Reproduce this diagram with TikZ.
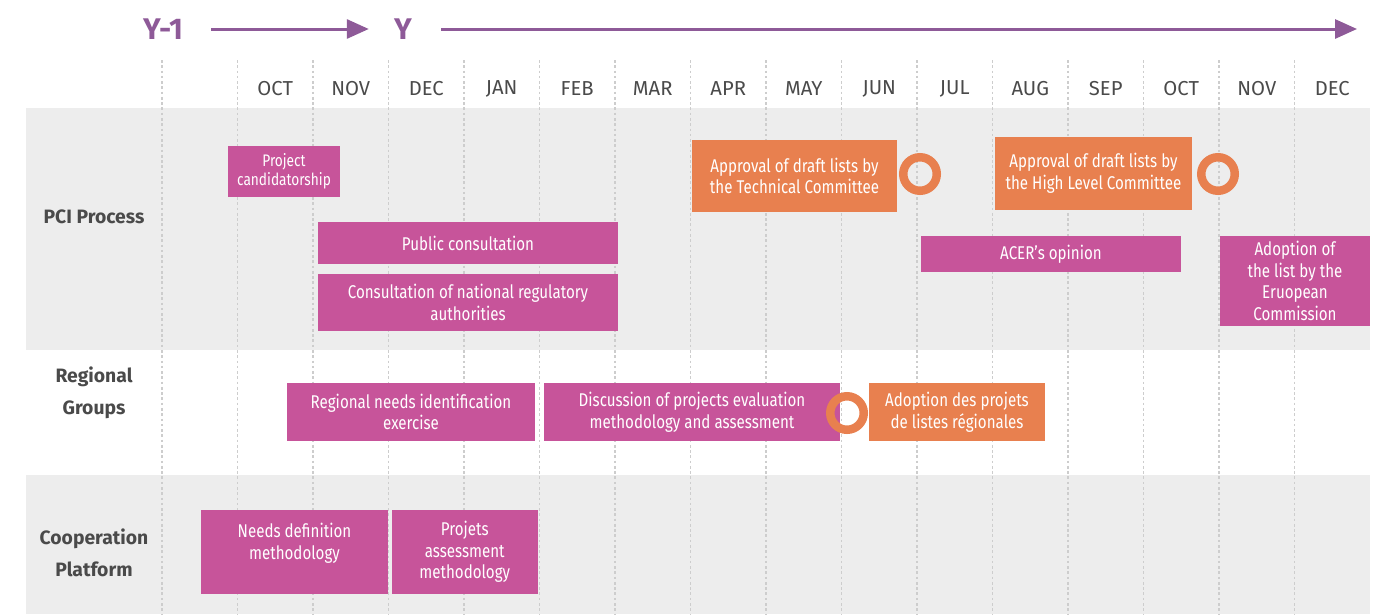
\documentclass[tikz,border=0pt]{standalone}
\usepackage{fontspec}
\setmainfont{Fira Sans}
\newfontfamily\boxfont[FakeStretch=0.82]{Fira Sans}
\usetikzlibrary{arrows.meta}
\definecolor{pcipink}{HTML}{C7549A}
\definecolor{pciorange}{HTML}{E8804F}
\definecolor{yearpurple}{HTML}{8E5A98}
\definecolor{bandgray}{HTML}{EDEDED}
\definecolor{gridgray}{HTML}{CDCDCD}
\definecolor{labelgray}{HTML}{4A4A4A}
\tikzset{
  pinkbox/.style={fill=pcipink, text=white, align=center, inner sep=0pt, font=\boxfont\fontsize{10.5}{12.3}\selectfont},
  orangebox/.style={pinkbox, fill=pciorange},
  milestone/.style={circle, draw=pciorange, line width=1.7mm, minimum size=6.7mm, inner sep=0pt},
  rowlabel/.style={text=labelgray, align=center, font=\bfseries\fontsize{11}{18}\selectfont},
  monthlabel/.style={text=labelgray, font=\fontsize{11.5}{14}\selectfont},
  yearlabel/.style={text=yearpurple, inner sep=0pt, font=\bfseries\fontsize{17}{20}\selectfont},
  yeararrow/.style={draw=yearpurple, line width=0.6mm, -{Triangle[length=4.4mm,width=3.8mm]}},
}

\begin{document}
\begin{tikzpicture}[x=0.2mm, y=-0.2mm]
\useasboundingbox (0,0) rectangle (1379,614);
\fill[bandgray] (26,108) rectangle (1370,350);
\fill[bandgray] (26,475) rectangle (1370,614);
\foreach \i in {0,...,15}
  \draw[gridgray, line width=0.25mm, dash pattern=on 1.5pt off 1.5pt] (162+75.5*\i,60) -- (162+75.5*\i,614);
\foreach \m [count=\i] in {OCT,NOV,DEC,JAN,FEB,MAR,APR,MAY,JUN,JUL,AUG,SEP,OCT,NOV,DEC}
  \node[monthlabel] (month\i) at (199.75+75.5*\i,89) {\m};

\node[yearlabel] (yminus) at (163,29) {Y-1};
\node[yearlabel] (ycur) at (403,29) {Y};
\coordinate (yend) at (1357,31);
\draw[yeararrow, shorten <=5.6mm, shorten >=5mm] (yminus.east) -- (ycur.west);
\draw[yeararrow, shorten <=5.8mm] (ycur.east) -- (ycur.east -| yend);

\node[rowlabel] (pcirow) at (94,217) {PCI Process};
\node[rowlabel] (regrow) at (94,393) {Regional\\Groups};
\node[rowlabel] (cooprow) at (94,553) {Cooperation\\Platform};

\node[pinkbox, minimum width=22.4mm, minimum height=10.2mm, font=\boxfont\fontsize{9.5}{11}\selectfont] (cand) at (284,171.5) {Project\\candidatorship};
\node[pinkbox, minimum width=60mm, minimum height=8.4mm] (pubcons) at (468,243) {Public consultation};
\node[pinkbox, minimum width=60mm, minimum height=11.4mm] (nra) at (468,302.5) {Consultation of national regulatory\\authorities};
\node[orangebox, minimum width=41mm, minimum height=14.4mm] (tc) at (794.5,176) {Approval of draft lists by\\the Technical Committee};
\node[milestone] (tcmile) at (920,174) {};
\node[orangebox, minimum width=39.4mm, minimum height=14.6mm] (hlc) at (1093.5,173.5) {Approval of draft lists by\\the High Level Committee};
\node[milestone] (hlcmile) at (1218,174) {};
\node[pinkbox, minimum width=52mm, minimum height=7.2mm] (acer) at (1051,254) {ACER’s opinion};
\node[pinkbox, minimum width=30mm, minimum height=18mm] (ec) at (1295,281) {Adoption of\\the list by the\\Eruopean\\Commission};

\node[pinkbox, minimum width=49.6mm, minimum height=11.6mm] (regneeds) at (411,412) {Regional needs identification\\exercise};
\node[pinkbox, minimum width=59.2mm, minimum height=11.6mm] (discuss) at (692,412) {Discussion of projects evaluation\\methodology and assessment};
\node[milestone] (regmile) at (847,413) {};
\node[orangebox, minimum width=35.2mm, minimum height=11.6mm] (adopt) at (957,412) {Adoption des projets\\de listes régionales};

\node[pinkbox, minimum width=37.4mm, minimum height=16.8mm] (needsdef) at (294.5,552) {Needs definition\\methodology\\\mbox{}};
\node[pinkbox, minimum width=29.1mm, minimum height=16.8mm] (projmeth) at (464.75,552) {Projets\\assessment\\methodology};
\end{tikzpicture}
\end{document}
